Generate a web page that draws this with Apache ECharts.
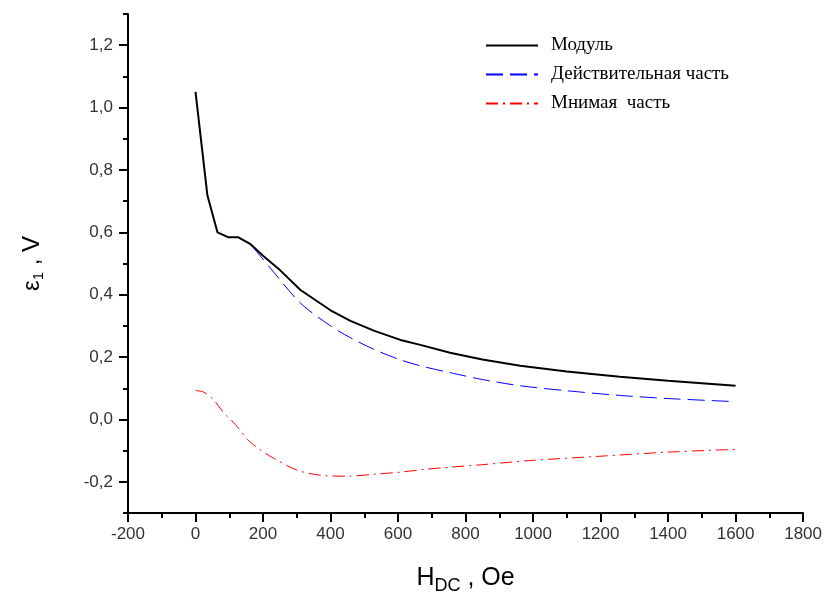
<!DOCTYPE html>
<html>
<head>
<meta charset="utf-8">
<script src="https://cdn.jsdelivr.net/npm/echarts@6/dist/echarts.min.js"></script>
<style>
	html, body { margin: 0; padding: 0; background: #fff; }
	#chart { width: 825px; height: 600px; }
</style>
</head>
<body>
<div id="chart"></div>
<script>
// данные
var modulX = [0, 35, 65, 98, 127, 163, 200, 251, 311, 400, 459, 530, 607, 666, 754, 850, 962, 1100, 1257, 1400, 1600];
var modulY = [1.05, 0.72, 0.60, 0.584, 0.584, 0.562, 0.525, 0.478, 0.415, 0.35, 0.316, 0.284, 0.255, 0.239, 0.214, 0.192, 0.172, 0.154, 0.137, 0.124, 0.108];

var realX = [170, 222, 311, 400, 459, 530, 607, 666, 754, 850, 962, 1100, 1257, 1400, 1600];
var realY = [0.553, 0.485, 0.373, 0.30, 0.262, 0.224, 0.191, 0.172, 0.15, 0.128, 0.108, 0.092, 0.077, 0.067, 0.057];

var imagX = [0, 25, 53, 83, 118, 154, 186, 231, 302, 370, 450, 538, 607, 680, 754, 850, 1000, 1198, 1396, 1598];
var imagY = [0.093, 0.087, 0.064, 0.022, -0.016, -0.064, -0.093, -0.124, -0.163, -0.179, -0.182, -0.175, -0.169, -0.16, -0.153, -0.145, -0.131, -0.118, -0.105, -0.096];

var yMajorTicks = [-0.2, 0, 0.2, 0.4, 0.6, 0.8, 1.0, 1.2];
var seriesNames = ['Модуль', 'Действительная часть', 'Мнимая  часть'];

function pairs(xs, ys) {
	var out = [];
	for (var i = 0; i < xs.length; i++) {
		out.push([xs[i], ys[i]]);
	}
	return out;
}

var chart = echarts.init(document.getElementById('chart'));
var option = {
	animation: false,
	backgroundColor: '#fff',
	textStyle: { fontFamily: 'Liberation Sans, Arial, sans-serif' },
	grid: { left: 128, right: 21, top: 14, bottom: 84 },
	legend: {
		orient: 'vertical',
		left: 480,
		top: 31,
		itemWidth: 52,
		itemHeight: 14,
		itemGap: 10,
		itemStyle: { opacity: 0 },
		textStyle: {
			fontFamily: 'Liberation Serif, Times New Roman, serif',
			fontSize: 19,
			color: '#000',
			padding: [0, 0, 0, 8]
		},
		data: seriesNames
	},
	xAxis: {
		type: 'value',
		min: -200,
		max: 1800,
		interval: 200,
		name: '{a|H}{s|DC}{a| , Oe}',
		nameLocation: 'middle',
		nameGap: 48,
		nameTextStyle: {
			rich: {
				a: { fontSize: 25, color: '#000', fontFamily: 'Liberation Sans, Arial, sans-serif' },
				s: { fontSize: 18, color: '#000', fontFamily: 'Liberation Sans, Arial, sans-serif', padding: [16, 0, 0, 0] }
			}
		},
		axisLine: { onZero: false, lineStyle: { color: '#000', width: 2 } },
		axisTick: { length: 9, lineStyle: { color: '#000', width: 2 } },
		minorTick: { show: true, splitNumber: 2, length: 5, lineStyle: { color: '#000', width: 2 } },
		splitLine: { show: false },
		axisLabel: {
			fontSize: 17,
			color: '#333',
			margin: 13,
			formatter: function(v) { return String(v); }
		}
	},
	yAxis: [{
		type: 'value',
		min: -0.3,
		max: 1.3,
		interval: 0.1,
		name: '{a|ε}{s|1}{a| , V}',
		nameLocation: 'middle',
		nameGap: 82,
		nameRotate: 90,
		nameTextStyle: {
			rich: {
				a: { fontSize: 24, color: '#000', fontFamily: 'Liberation Sans, Arial, sans-serif' },
				s: { fontSize: 15, color: '#000', fontFamily: 'Liberation Sans, Arial, sans-serif', padding: [12, 0, 0, 0] }
			}
		},
		axisLine: { onZero: false, lineStyle: { color: '#000', width: 2 } },
		axisTick: { length: 5, lineStyle: { color: '#000', width: 2 } },
		splitLine: { show: false },
		axisLabel: {
			fontSize: 17,
			color: '#333',
			margin: 15,
			formatter: function(v) {
				var k = Math.round(v * 10);
				if (k % 2 !== 0) return '';
				return (k / 10).toFixed(1).replace('.', ',');
			}
		}
	}, {
		// только большие риски
		type: 'value',
		position: 'left',
		min: -0.3,
		max: 1.3,
		interval: 0.1,
		axisLine: { show: false, onZero: false },
		axisTick: { length: 9, customValues: yMajorTicks, lineStyle: { color: '#000', width: 2 } },
		axisLabel: { show: false },
		splitLine: { show: false }
	}],
	series: [{
		name: seriesNames[0],
		type: 'line',
		symbol: 'none',
		lineStyle: { color: '#000', width: 2 },
		itemStyle: { color: '#000' },
		data: pairs(modulX, modulY)
	}, {
		name: seriesNames[1],
		type: 'line',
		symbol: 'none',
		smooth: 0.3,
		lineStyle: { color: '#0000ff', width: 1, type: [17, 7] },
		itemStyle: { color: '#0000ff' },
		data: pairs(realX, realY)
	}, {
		name: seriesNames[2],
		type: 'line',
		symbol: 'none',
		smooth: 0.3,
		lineStyle: { color: '#ff0000', width: 1, type: [12, 5, 2, 5] },
		itemStyle: { color: '#ff0000' },
		data: pairs(imagX, imagY)
	}]
};
chart.setOption(option);
</script>
</body>
</html>
